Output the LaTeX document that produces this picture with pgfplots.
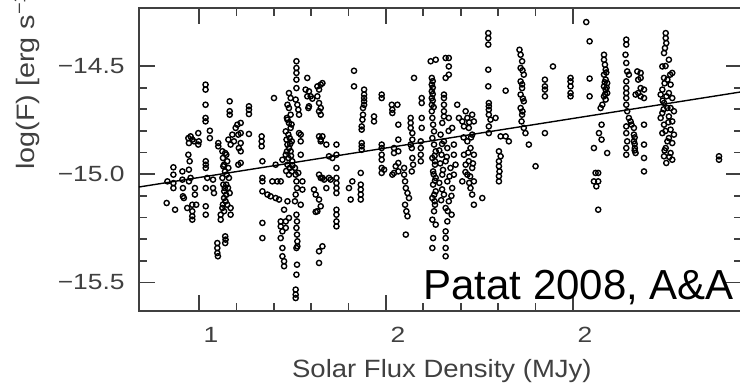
\documentclass[border=0pt]{standalone}
\usepackage{pgfplots}
\pgfplotsset{compat=1.18}
\usepackage{fontspec}
\setmainfont{Liberation Sans}
\newfontfamily\labfont[FakeStretch=1.1]{Liberation Sans}
\newfontfamily\ylabfont[FakeStretch=1.14]{Liberation Sans}
\newfontfamily\tickfont[FakeStretch=1.2]{Liberation Sans}
\begin{document}
\begin{tikzpicture}
\begin{axis}[name=ax, at={(0,0)}, anchor=south west,
 scale only axis, width=301.5pt, height=151.5pt,
 xmin=0.679, xmax=3.904, ymin=-15.632, ymax=-14.232,
 xtick={1,2,3}, xticklabels={1,2,2}, minor x tick num=4,
 ytick={-15.5,-15,-14.5}, yticklabels={−15.5,−15.0,−14.5}, minor y tick num=4,
 tick pos=both, tick align=inside,
 major tick length=8pt, minor tick length=4pt,
 axis line style={line width=0.9pt, black!75},
 tick style={line width=0.9pt, black!75},
 xticklabel style={font=\tickfont\fontsize{11}{13}\selectfont, text=black!75, anchor=north, inner sep=0pt, yshift=-8pt, xshift=6pt},
 yticklabel style={font=\tickfont\fontsize{11}{13}\selectfont, text=black!75, anchor=east, inner sep=0pt, xshift=-7pt},
 clip=false,
]
\addplot[only marks, mark=o, mark size=1.3pt, mark options={line width=0.7pt, black}] table {
x y
0.827 -15.133
0.831 -15.033
0.872 -15.164
0.863 -14.968
0.863 -15.002
0.863 -15.041
0.863 -15.064
0.911 -14.987
0.911 -15.025
0.914 -15.064
0.914 -15.102
0.919 -15.110
0.943 -14.833
0.946 -14.856
0.943 -14.910
0.950 -14.940
0.946 -14.979
0.955 -15.017
0.946 -15.033
0.937 -15.156
0.964 -15.141
0.964 -15.171
0.964 -15.194
0.964 -15.210
0.978 -15.064
0.978 -15.094
0.985 -15.141
0.996 -14.810
0.955 -14.825
0.964 -14.840
0.973 -14.848
0.996 -14.863
0.999 -14.848
1.035 -14.586
1.035 -14.609
1.035 -14.679
1.035 -14.740
1.035 -14.756
1.036 -14.940
1.036 -14.956
1.036 -14.971
1.044 -15.017
1.036 -15.064
1.036 -15.148
1.036 -15.187
1.058 -14.799
1.058 -14.833
1.075 -15.025
1.075 -15.064
1.080 -15.087
1.103 -14.856
1.103 -14.871
1.098 -15.318
1.098 -15.341
1.098 -15.364
1.101 -15.379
1.140 -15.287
1.142 -15.302
1.140 -15.318
1.125 -14.894
1.128 -14.925
1.134 -14.956
1.139 -14.987
1.125 -15.017
1.130 -15.048
1.135 -15.079
1.134 -15.110
1.142 -15.125
1.125 -15.156
1.116 -15.187
1.116 -15.210
1.134 -15.171
1.151 -15.141
1.146 -14.910
1.151 -14.940
1.157 -14.971
1.146 -15.048
1.160 -15.017
1.164 -15.087
1.169 -15.187
1.169 -15.156
1.164 -14.663
1.164 -14.709
1.164 -14.725
1.157 -14.840
1.169 -14.863
1.178 -14.817
1.187 -14.848
1.196 -14.786
1.205 -14.771
1.210 -14.817
1.213 -14.879
1.210 -14.956
1.140 -14.902
1.130 -14.963
1.148 -15.002
1.138 -15.064
1.145 -15.095
1.128 -15.140
1.155 -15.063
1.223 -14.763
1.223 -14.810
1.223 -14.856
1.223 -14.894
1.223 -14.948
1.267 -14.686
1.267 -14.702
1.267 -14.722
1.267 -14.814
1.335 -14.825
1.335 -14.848
1.335 -14.871
1.339 -14.940
1.339 -15.017
1.339 -15.033
1.339 -15.079
1.366 -15.094
1.383 -15.102
1.410 -15.110
1.428 -15.117
1.339 -15.225
1.339 -15.295
1.401 -14.648
1.392 -15.033
1.419 -15.033
1.437 -15.033
1.410 -14.956
1.446 -14.933
1.437 -15.218
1.437 -15.241
1.446 -15.264
1.437 -15.295
1.446 -15.341
1.446 -15.379
1.455 -15.402
1.455 -15.425
1.455 -15.164
1.464 -15.218
1.464 -15.248
1.473 -15.125
1.481 -15.202
1.481 -14.625
1.490 -14.648
1.473 -14.679
1.481 -14.694
1.490 -14.725
1.473 -14.748
1.481 -14.763
1.490 -14.786
1.464 -14.802
1.478 -14.817
1.485 -14.833
1.496 -14.848
1.473 -14.863
1.481 -14.879
1.490 -14.894
1.464 -14.910
1.478 -14.925
1.499 -14.940
1.473 -14.956
1.485 -14.971
1.496 -14.987
1.481 -15.002
1.470 -14.740
1.495 -14.770
1.468 -14.840
1.488 -14.860
1.470 -14.895
1.492 -14.915
1.466 -14.985
1.500 -14.960
1.521 -14.478
1.521 -14.509
1.521 -14.532
1.521 -14.563
1.521 -14.602
1.517 -14.655
1.526 -14.679
1.531 -14.702
1.535 -14.725
1.513 -14.971
1.517 -15.002
1.521 -15.033
1.524 -15.064
1.517 -15.094
1.513 -15.125
1.521 -15.187
1.524 -15.218
1.521 -15.248
1.524 -15.279
1.526 -15.310
1.521 -15.341
1.524 -15.418
1.521 -15.464
1.517 -15.533
1.517 -15.556
1.517 -15.572
1.535 -14.810
1.544 -14.817
1.544 -14.848
1.544 -14.910
1.544 -15.141
1.553 -15.033
1.553 -15.071
1.531 -14.994
1.526 -15.333
1.579 -14.555
1.570 -14.609
1.588 -14.617
1.579 -14.640
1.597 -14.640
1.606 -14.651
1.588 -14.686
1.585 -14.694
1.633 -14.594
1.642 -14.609
1.651 -14.586
1.660 -14.579
1.633 -14.640
1.642 -14.671
1.651 -14.694
1.642 -14.709
1.651 -14.725
1.615 -15.071
1.624 -15.094
1.642 -15.117
1.651 -15.148
1.633 -15.171
1.624 -15.174
1.642 -14.825
1.651 -14.840
1.660 -14.825
1.651 -14.848
1.642 -15.002
1.651 -15.017
1.660 -15.017
1.669 -15.025
1.681 -15.064
1.642 -15.356
1.660 -15.333
1.642 -15.410
1.681 -14.863
1.695 -14.917
1.713 -14.925
1.695 -15.017
1.704 -15.025
1.735 -14.863
1.735 -14.910
1.735 -14.971
1.735 -15.017
1.735 -15.041
1.735 -15.064
1.735 -15.087
1.735 -15.164
1.735 -15.187
1.735 -15.218
1.735 -15.241
1.829 -14.522
1.829 -14.594
1.883 -14.609
1.883 -14.632
1.883 -14.648
1.883 -14.663
1.883 -14.679
1.877 -14.694
1.877 -14.725
1.874 -14.748
1.870 -14.779
1.870 -14.794
1.870 -14.856
1.870 -14.871
1.870 -14.887
1.865 -14.994
1.865 -15.048
1.865 -15.071
1.865 -15.094
1.865 -15.117
1.802 -15.064
1.820 -15.033
1.811 -15.117
1.936 -14.733
1.936 -14.756
1.977 -14.632
1.977 -14.648
1.977 -14.863
1.977 -14.879
1.977 -14.910
1.977 -14.933
1.977 -14.971
1.977 -14.994
1.990 -14.979
2.031 -14.679
2.034 -14.702
2.034 -14.717
2.061 -14.679
2.066 -14.771
2.066 -14.840
2.066 -14.894
2.066 -14.948
2.066 -14.987
2.043 -14.879
2.043 -14.902
2.052 -14.963
2.043 -14.994
2.034 -15.002
2.097 -14.971
2.097 -15.002
2.102 -15.033
2.106 -15.064
2.115 -15.087
2.123 -15.110
2.102 -15.141
2.109 -15.171
2.115 -15.194
2.106 -15.279
2.132 -14.740
2.132 -14.763
2.132 -14.786
2.141 -14.810
2.141 -14.840
2.132 -14.863
2.138 -14.879
2.141 -14.925
2.145 -14.956
2.138 -14.987
2.150 -14.555
2.191 -14.648
2.191 -14.671
2.191 -14.740
2.191 -14.786
2.186 -14.848
2.186 -14.879
2.186 -14.910
2.186 -14.940
2.239 -14.478
2.266 -14.471
2.245 -14.555
2.245 -14.586
2.245 -14.617
2.245 -14.648
2.245 -14.679
2.245 -14.709
2.248 -14.740
2.252 -14.771
2.257 -14.802
2.248 -14.833
2.257 -14.863
2.266 -14.894
2.248 -14.925
2.262 -14.956
2.252 -14.987
2.266 -15.017
2.252 -15.048
2.266 -15.079
2.248 -15.110
2.262 -15.141
2.257 -15.171
2.248 -15.210
2.266 -15.233
2.252 -15.295
2.248 -15.341
2.250 -14.570
2.250 -14.600
2.250 -14.630
2.250 -14.660
2.255 -14.690
2.260 -14.915
2.262 -14.940
2.255 -15.000
2.262 -15.030
2.258 -15.095
2.260 -15.125
2.319 -14.463
2.336 -14.463
2.336 -14.502
2.336 -14.540
2.319 -14.555
2.310 -14.632
2.310 -14.648
2.310 -14.679
2.310 -14.709
2.310 -14.733
2.301 -14.763
2.292 -14.817
2.310 -14.848
2.328 -14.879
2.297 -14.910
2.319 -14.940
2.345 -14.971
2.301 -15.002
2.328 -15.033
2.354 -15.064
2.310 -15.094
2.336 -15.125
2.319 -15.156
2.351 -15.187
2.328 -15.218
2.319 -15.264
2.319 -15.295
2.319 -15.341
2.319 -15.379
2.363 -14.863
2.363 -14.910
2.363 -15.002
2.354 -14.786
2.336 -14.740
2.372 -14.956
2.300 -14.860
2.290 -14.950
2.305 -14.980
2.285 -15.040
2.300 -15.070
2.295 -15.120
2.325 -14.920
2.340 -15.010
2.350 -15.100
2.330 -15.170
2.335 -14.800
2.285 -14.890
2.381 -14.679
2.390 -14.740
2.408 -14.756
2.417 -14.779
2.426 -14.709
2.435 -14.740
2.461 -14.725
2.470 -14.756
2.443 -14.786
2.461 -14.817
2.435 -14.848
2.452 -14.879
2.470 -14.910
2.443 -14.940
2.461 -14.971
2.435 -15.002
2.470 -15.033
2.452 -15.064
2.461 -15.094
2.470 -15.141
2.426 -14.956
2.408 -15.033
2.417 -14.910
2.445 -14.760
2.455 -14.830
2.440 -14.900
2.465 -14.950
2.450 -15.010
2.445 -15.040
2.425 -14.990
2.415 -14.830
2.515 -15.110
2.547 -14.348
2.547 -14.371
2.547 -14.401
2.547 -14.517
2.547 -14.594
2.550 -14.671
2.550 -14.686
2.550 -14.702
2.550 -14.725
2.559 -14.748
2.550 -14.779
2.550 -14.810
2.586 -14.740
2.640 -14.614
2.613 -14.825
2.640 -14.825
2.657 -14.848
2.604 -14.894
2.613 -14.917
2.604 -14.940
2.604 -14.963
2.607 -14.987
2.604 -15.009
2.604 -15.033
2.714 -14.425
2.720 -14.448
2.728 -14.478
2.720 -14.509
2.737 -14.540
2.720 -14.571
2.728 -14.602
2.720 -14.632
2.737 -14.663
2.720 -14.694
2.728 -14.725
2.725 -14.756
2.737 -14.786
2.746 -14.810
2.730 -14.520
2.728 -14.585
2.732 -14.650
2.730 -14.710
2.764 -14.863
2.800 -14.963
3.071 -14.297
3.089 -14.386
2.893 -14.502
2.850 -14.563
2.850 -14.594
2.850 -14.609
2.850 -14.640
2.850 -14.810
2.987 -14.555
2.987 -14.571
2.987 -14.594
2.987 -14.625
2.987 -14.640
3.089 -14.558
3.089 -14.640
3.166 -14.448
3.166 -14.471
3.171 -14.494
3.175 -14.517
3.166 -14.540
3.175 -14.563
3.183 -14.579
3.166 -14.594
3.175 -14.609
3.183 -14.625
3.166 -14.640
3.175 -14.655
3.157 -14.679
3.148 -14.694
3.178 -14.530
3.170 -14.575
3.180 -14.600
3.172 -14.630
3.153 -14.771
3.139 -14.810
3.153 -14.840
3.112 -14.879
3.183 -14.902
3.121 -14.994
3.135 -14.994
3.112 -15.033
3.135 -15.033
3.125 -15.056
3.135 -15.164
3.285 -14.378
3.285 -14.401
3.281 -14.448
3.285 -14.486
3.290 -14.525
3.299 -14.540
3.285 -14.571
3.285 -14.602
3.285 -14.625
3.285 -14.648
3.285 -14.679
3.290 -14.709
3.299 -14.740
3.285 -14.779
3.285 -14.810
3.290 -14.848
3.285 -14.879
3.285 -14.910
3.326 -14.786
3.326 -14.817
3.326 -14.848
3.331 -14.879
3.335 -14.902
3.344 -14.525
3.349 -14.563
3.349 -14.625
3.335 -14.632
3.308 -14.756
3.313 -14.771
3.330 -14.830
3.330 -14.860
3.330 -14.890
3.362 -14.532
3.362 -14.555
3.362 -14.602
3.362 -14.640
3.380 -14.609
3.380 -14.648
3.380 -14.771
3.380 -14.863
3.380 -14.925
3.380 -14.987
3.496 -14.348
3.496 -14.371
3.499 -14.394
3.492 -14.417
3.487 -14.440
3.513 -14.471
3.478 -14.502
3.531 -14.532
3.487 -14.555
3.522 -14.586
3.478 -14.609
3.513 -14.625
3.531 -14.648
3.487 -14.671
3.522 -14.694
3.478 -14.717
3.513 -14.733
3.531 -14.756
3.487 -14.771
3.522 -14.794
3.478 -14.810
3.513 -14.833
3.531 -14.856
3.496 -14.879
3.522 -14.902
3.487 -14.917
3.531 -14.933
3.499 -14.948
3.505 -14.563
3.505 -14.694
3.505 -14.848
3.469 -14.632
3.469 -14.740
3.540 -14.709
3.540 -14.817
3.495 -14.500
3.490 -14.580
3.500 -14.640
3.485 -14.700
3.510 -14.760
3.495 -14.800
3.490 -14.890
3.515 -14.920
3.480 -14.660
3.520 -14.540
3.781 -14.917
3.781 -14.933
};
\addplot[black, line width=0.7pt] coordinates {(0.679,-15.059) (3.904,-14.619)};
\node[anchor=base west, inner sep=0pt, font=\fontsize{21}{25}\selectfont] at (axis cs:2.198,-15.581) {Patat 2008, A\&A};
\node[rotate=90, anchor=base west, inner sep=0pt, font=\ylabfont\fontsize{12.6}{15}\selectfont, text=black!75] at (axis cs:0.118,-14.981) {log(F) [erg s\textsuperscript{−1} cm\textsuperscript{−2} Å\textsuperscript{−1}]};
\node[anchor=base, inner sep=0pt, font=\labfont\fontsize{12.5}{15}\selectfont, text=black!75] at (axis cs:2.299,-15.937) {Solar Flux Density (MJy)};
\end{axis}
\pgfresetboundingbox
\path[use as bounding box] (-69.5pt,-35.5pt) rectangle (300.5pt,155.5pt);
\end{tikzpicture}
\end{document}
